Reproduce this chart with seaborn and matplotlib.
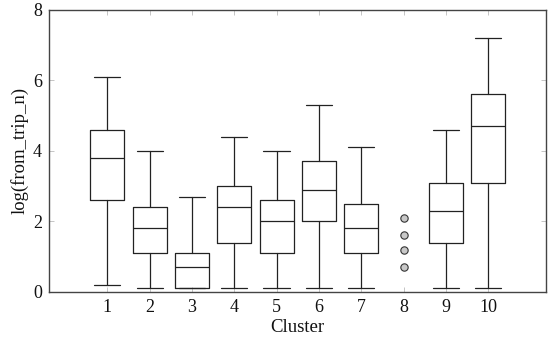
import matplotlib
matplotlib.use("Agg")
import matplotlib.pyplot as plt
import seaborn as sns

clusters = [1, 2, 3, 4, 5, 6, 7, 8, 9, 10]
whislo = [0.2, 0.1, 0.1, 0.1, 0.1, 0.1, 0.1, None, 0.1, 0.1]
q1 = [2.6, 1.1, 0.1, 1.4, 1.1, 2.0, 1.1, None, 1.4, 3.1]
med = [3.8, 1.8, 0.7, 2.4, 2.0, 2.9, 1.8, None, 2.3, 4.7]
q3 = [4.6, 2.4, 1.1, 3.0, 2.6, 3.7, 2.5, None, 3.1, 5.6]
whishi = [6.1, 4.0, 2.7, 4.4, 4.0, 5.3, 4.1, None, 4.6, 7.2]
outliers_c8 = [0.7, 1.2, 1.6, 2.1]

sns.set_theme(style="ticks")
plt.rcParams["font.family"] = ["Liberation Serif", "DejaVu Serif"]

fig = plt.figure(figsize=(5.5, 3.39), dpi=100)
ax = fig.add_axes([0.089, 0.139, 0.904, 0.832])

stats = []
pos = []
for i, c in enumerate(clusters):
    if med[i] is None:
        continue
    stats.append(dict(med=med[i], q1=q1[i], q3=q3[i], whislo=whislo[i],
                      whishi=whishi[i], fliers=[]))
    pos.append(c)

lc = "#222222"
ax.bxp(stats, positions=pos, widths=0.8, showfliers=False,
       boxprops=dict(color=lc, linewidth=0.9),
       medianprops=dict(color=lc, linewidth=0.9),
       whiskerprops=dict(color=lc, linewidth=0.9),
       capprops=dict(color=lc, linewidth=0.9),
       capwidths=0.62, patch_artist=False)

sns.scatterplot(x=[8] * len(outliers_c8), y=outliers_c8, ax=ax,
                color="#c8c8c8", edgecolor="#333333", linewidth=0.8, s=28,
                zorder=3, legend=False)

ax.set_xlim(-0.38, 11.37)
ax.set_ylim(0, 8)
ax.set_xticks(clusters)
ax.set_xticklabels([str(c) for c in clusters])
ax.set_yticks([0, 2, 4, 6, 8])
ax.set_yticklabels(["0", "2", "4", "6", "8"])
ax.tick_params(direction="in", length=3.5, width=0.6, color="#bbbbbb",
               top=True, right=True, labelsize=13, pad=5, labelcolor="#111111")
for s in ax.spines.values():
    s.set_color("#444444")
    s.set_linewidth(1.0)
ax.set_xlabel("Cluster", fontsize=13.5, labelpad=2, color="#111111")
ax.set_ylabel("log(from_trip_n)", fontsize=13.5, labelpad=3, color="#111111")

fig.savefig("out.png", dpi=100)
